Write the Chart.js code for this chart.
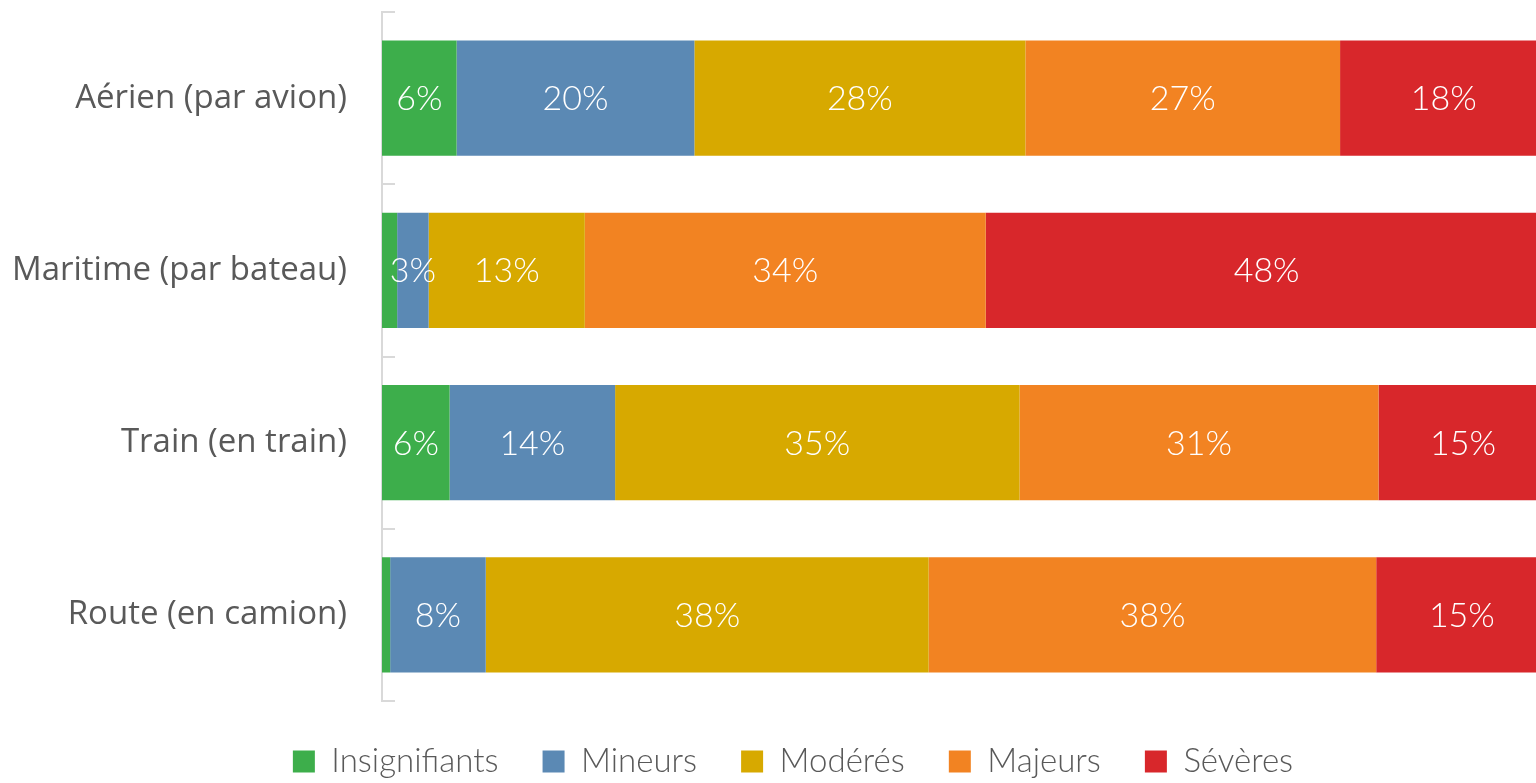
<!DOCTYPE html>
<html>
<head>
<meta charset="utf-8">
<script src="https://cdn.jsdelivr.net/npm/chart.js@4"></script>
<style>
  html, body { margin: 0; padding: 0; background: #fff; overflow: hidden; width: 1536px; height: 783px; }
  #wrap { width: 1586px; height: 788px; }
</style>
</head>
<body>
<div id="wrap"><canvas id="transportChart" width="1586" height="788"></canvas></div>
<script>
const categories = ['Aérien (par avion)', 'Maritime (par bateau)', 'Train (en train)', 'Route (en camion)'];
const severityLabels = ['Insignifiants', 'Mineurs', 'Modérés', 'Majeurs', 'Sévères'];
const severityColors = ['#3DAE4B', '#5B89B4', '#D7A900', '#F28322', '#D8272B'];

// % par mode de transport
const insignifiants = [6.4, 1.3, 5.8, 0.7];
const mineurs = [20.4, 2.7, 14.2, 8.2];
const moderes = [28.4, 13.4, 34.7, 38.0];
const majeurs = [27.0, 34.4, 30.8, 38.4];
const severes = [17.8, 48.2, 14.5, 14.7];

const seriesValues = [insignifiants, mineurs, moderes, majeurs, severes];

// petits traits de graduation vers l'intérieur
const innerTicks = {
  id: 'innerTicks',
  afterDraw(chart) {
    const y = chart.scales.y;
    const ctx = chart.ctx;
    const step = (y.bottom - y.top) / categories.length;
    ctx.save();
    ctx.strokeStyle = '#d9d9d9';
    ctx.lineWidth = 2;
    for (let k = 0; k <= categories.length; k++) {
      const py = Math.round(y.top + k * step);
      ctx.beginPath();
      ctx.moveTo(y.right, py);
      ctx.lineTo(y.right + 13, py);
      ctx.stroke();
    }
    ctx.restore();
  }
};

// étiquettes de valeur dans les barres
const barLabels = {
  id: 'barLabels',
  afterDatasetsDraw(chart) {
    const ctx = chart.ctx;
    ctx.save();
    ctx.fillStyle = '#ffffff';
    ctx.font = '300 34px Lato';
    ctx.textAlign = 'center';
    ctx.textBaseline = 'middle';
    chart.data.datasets.forEach((ds, i) => {
      const meta = chart.getDatasetMeta(i);
      meta.data.forEach((bar, j) => {
        const v = ds.data[j];
        if (v < 2) return;
        ctx.fillText(Math.round(v) + '%', (bar.x + bar.base) / 2, bar.y + 1);
      });
    });
    ctx.restore();
  }
};

new Chart(document.getElementById('transportChart'), {
  type: 'bar',
  data: {
    labels: categories,
    datasets: severityLabels.map((name, i) => ({
      label: name,
      data: seriesValues[i],
      backgroundColor: severityColors[i],
      borderWidth: 0,
      categoryPercentage: 1,
      barPercentage: 0.67
    }))
  },
  options: {
    indexAxis: 'y',
    responsive: false,
    animation: false,
    layout: { padding: { top: 12, right: 0, bottom: 0, left: 0 } },
    scales: {
      x: { stacked: true, display: false, min: 0, max: 103.3 },
      y: {
        stacked: true,
        afterFit(scale) {
          scale.width = 382;
          scale.paddingTop = 0;
          scale.paddingBottom = 0;
        },
        grid: { drawOnChartArea: false, drawTicks: false },
        border: { color: '#d9d9d9', width: 2 },
        ticks: {
          padding: 35,
          color: '#595959',
          font: { family: 'Open Sans', size: 33 }
        }
      }
    },
    plugins: {
      tooltip: { enabled: false },
      legend: {
        position: 'bottom',
        labels: {
          boxWidth: 22,
          boxHeight: 22,
          padding: 44,
          color: '#595959',
          font: { family: 'Lato', size: 33, weight: '300' }
        }
      }
    }
  },
  plugins: [innerTicks, barLabels]
});
</script>
</body>
</html>
